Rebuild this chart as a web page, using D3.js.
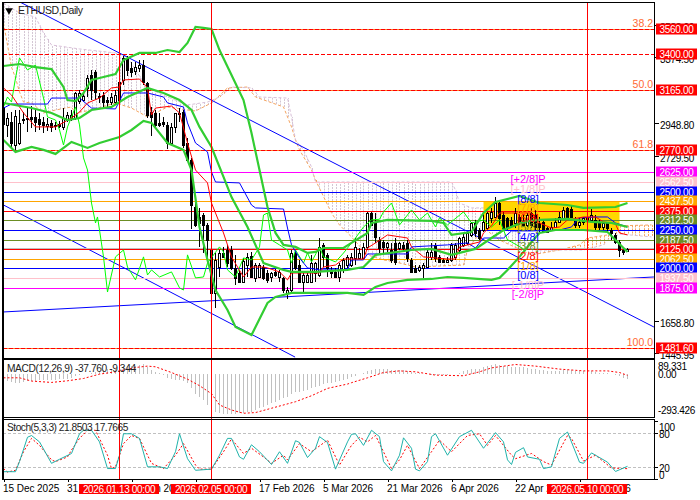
<!DOCTYPE html>
<html><head><meta charset="utf-8">
<script src="https://cdn.jsdelivr.net/npm/d3@7/dist/d3.min.js"></script>
<style>
html,body{margin:0;padding:0;background:#fff;width:700px;height:500px;overflow:hidden}
svg{display:block;font-family:"Liberation Sans",Arial,sans-serif}
</style></head><body><svg id="c" width="700" height="500"></svg>
<script>
const chartTitle="ETHUSD,Daily";
const opens=[3052,2935,2954,2804,2817,2974,2980,2987,2987,2974,2954,2928,2948,2928,2941,2922,2967,2980,2980,3091,3097,3176,3260,3280,3123,3130,3097,3084,3084,3097,3228,3371,3306,3286,3306,3325,3208,3019,3013,2948,2954,2935,2817,2922,3006,3019,2817,2706,2402,2337,2348,2283,2120,1837,2011,2098,2120,2120,2000,1968,1914,2022,2081,1935,1946,2011,1968,1946,1979,1946,1935,1837,1859,2098,2022,1914,1914,1914,1968,1957,2152,2087,1989,1979,1946,1989,2022,2022,2066,2066,2066,2142,2359,2294,2185,2174,2137,2120,2163,2131,2152,2163,2055,2000,1990,2000,2011,2076,2152,2076,2055,2044,2055,2076,2120,2152,2163,2218,2294,2250,2250,2261,2326,2337,2428,2348,2326,2315,2294,2337,2304,2283,2359,2348,2298,2304,2261,2250,2272,2304,2326,2391,2385,2315,2283,2304,2315,2315,2315,2298,2267,2293,2250,2217,2174,2120,2115];
const highs=[3163,3013,3019,3032,3032,3019,3052,3058,3032,3013,2987,2980,2967,2954,2961,3045,3019,3032,3150,3163,3150,3260,3293,3293,3143,3150,3117,3143,3163,3228,3384,3384,3345,3345,3358,3358,3215,3052,3032,3013,2987,2954,2948,3013,3045,3032,2850,2720,2467,2391,2359,2294,2152,2098,2120,2137,2152,2146,2087,1989,2065,2102,2109,2033,2033,2022,1989,1979,1996,1989,1946,1881,2120,2120,2055,1968,1979,2087,2044,2196,2163,2098,2011,2000,2033,2065,2087,2098,2196,2131,2163,2370,2370,2359,2207,2185,2174,2163,2196,2174,2174,2185,2066,2022,2022,2033,2120,2163,2163,2087,2066,2076,2163,2163,2207,2229,2240,2305,2315,2261,2359,2369,2391,2467,2435,2369,2337,2337,2391,2369,2348,2359,2391,2380,2337,2315,2272,2304,2326,2369,2402,2402,2413,2337,2326,2337,2348,2385,2348,2315,2304,2304,2261,2228,2185,2137,2131];
const lows=[2882,2856,2785,2772,2804,2941,2889,2915,2889,2902,2882,2895,2889,2902,2915,2902,2954,2961,2967,3071,3084,3117,3097,3097,3078,3052,3052,3065,3065,3045,3195,3254,3247,3260,3280,3195,2980,2863,2922,2922,2922,2778,2817,2882,2954,2785,2691,2257,2272,2141,2098,2065,1827,1740,1946,2065,2011,1989,1892,1903,1903,1946,1935,1914,1935,1924,1903,1914,1946,1914,1837,1798,1848,1989,1903,1848,1914,1903,1914,1946,2011,1946,1935,1935,1914,1968,2000,2011,2022,2066,2066,2120,2276,2163,2098,2098,2109,2033,2022,2120,2120,2044,1968,1968,1979,1935,2000,2055,2044,2033,2037,2033,2044,2055,2109,2142,2152,2207,2207,2185,2239,2250,2294,2326,2283,2250,2250,2272,2261,2283,2272,2272,2261,2250,2239,2228,2228,2246,2267,2294,2315,2326,2326,2261,2261,2283,2304,2304,2250,2250,2250,2228,2185,2159,2072,2087,2109];
const closes=[2941,2980,2817,2993,2948,2967,2974,2974,2954,2941,2935,2941,2922,2935,2928,2980,3000,3000,3143,3143,3123,3241,3163,3150,3117,3084,3084,3117,3130,3215,3371,3293,3280,3312,3325,3215,3000,2987,2935,2935,2941,2817,2922,3013,3013,2804,2706,2413,2283,2294,2283,2185,1837,2055,2098,2072,2033,2000,1935,1914,2050,2076,1946,2022,2022,1935,1924,1968,1957,1979,1859,1859,2098,2000,1914,1957,1957,2033,2033,2141,2076,2000,1968,1946,2022,2055,2076,2077,2142,2098,2142,2359,2283,2207,2131,2142,2163,2055,2044,2163,2131,2066,1979,1979,2011,2022,2109,2109,2066,2044,2044,2055,2152,2152,2196,2207,2229,2294,2229,2196,2304,2359,2369,2424,2326,2261,2272,2283,2359,2304,2283,2348,2283,2272,2272,2239,2239,2272,2304,2337,2380,2337,2337,2283,2304,2326,2333,2348,2272,2272,2298,2261,2228,2174,2120,2109,2126];
const bbUpper=[[0,3319],[4,3332],[8,3312],[12,3299],[15,3182],[16,3097],[18,3091],[20,3143],[22,3228],[24,3241],[28,3267],[30,3358],[34,3404],[38,3404],[41,3423],[44,3410],[46,3469],[48,3573],[50,3567],[52,3560],[54,3423],[57,3260],[60,3097],[62,2882],[64,2641],[66,2400],[68,2231],[70,2153],[73,2140],[76,2101],[78,2107],[80,2133],[85,2133],[87,2166],[91,2231],[92,2296],[96,2316],[107,2309],[110,2296],[112,2218],[117,2237],[120,2361],[123,2433],[129,2472],[134,2426],[141,2413],[145,2394],[153,2400],[156,2426]];
const bbMiddle=[[0,3078],[7,3045],[12,3013],[16,2967],[19,2980],[22,3032],[27,3052],[31,3117],[36,3176],[40,3143],[44,3097],[47,3032],[49,2922],[52,2791],[55,2596],[57,2465],[61,2270],[65,2035],[70,1990],[72,1977],[78,1977],[86,1990],[90,2009],[93,2088],[102,2120],[107,2127],[112,2088],[118,2127],[122,2198],[125,2250],[130,2303],[134,2316],[141,2322],[147,2303],[152,2296],[156,2270]];
const bbLower=[[0,2837],[3,2759],[7,2791],[10,2772],[13,2746],[17,2824],[21,2785],[24,2817],[29,2856],[32,2902],[35,2961],[37,2948],[41,2817],[45,2772],[47,2641],[49,2270],[51,2055],[53,1859],[56,1729],[58,1618],[62,1566],[63,1618],[66,1775],[68,1814],[72,1840],[76,1840],[86,1840],[90,1827],[93,1879],[96,1905],[101,1925],[107,1931],[111,1944],[115,1938],[122,1925],[124,1938],[126,1990],[129,2075],[132,2172],[134,2231],[138,2250],[145,2250],[151,2237],[153,2185],[156,2107]];
const kijun=[[0,3045],[2,3071],[11,3071],[12,3110],[19,3110],[22,3045],[28,3039],[30,3143],[36,3143],[40,3117],[41,3078],[45,3052],[46,2948],[48,2817],[51,2759],[52,2628],[53,2563],[59,2557],[62,2413],[63,2394],[70,2387],[71,2263],[72,2153],[74,2068],[76,2003],[79,1990],[86,1990],[87,2055],[90,2055],[91,2094],[101,2094],[102,2140],[111,2153],[116,2166],[118,2133],[120,2198],[125,2198],[127,2244],[132,2244],[139,2250],[142,2270],[143,2303],[144,2329],[148,2335],[151,2335],[153,2296],[156,2270]];
const tenkan=[[0,3176],[2,3130],[5,3013],[8,2922],[13,2922],[17,2980],[19,3019],[21,3078],[24,3110],[27,3176],[29,3182],[30,3228],[34,3234],[36,3176],[37,3000],[38,3045],[42,3058],[44,3013],[46,2817],[48,2641],[51,2557],[52,2426],[53,2361],[55,2231],[57,2075],[60,1944],[62,2009],[65,2009],[66,2003],[69,1977],[71,1925],[72,1970],[79,1970],[80,2009],[83,2022],[85,2061],[90,2061],[91,2133],[93,2166],[96,2218],[101,2198],[102,2140],[105,2075],[111,2061],[113,2061],[114,2140],[119,2172],[120,2231],[122,2277],[124,2361],[127,2361],[132,2361],[134,2296],[137,2263],[139,2270],[141,2316],[145,2335],[148,2335],[150,2303],[153,2290],[154,2231],[156,2218]];
const chikou=[[0,3052],[1,3117],[2,3084],[3,3241],[4,3371],[6,3293],[8,3325],[10,3110],[11,2987],[13,2967],[14,2902],[15,2804],[16,2922],[18,3052],[19,2935],[20,2720],[21,2641],[22,2426],[23,2296],[23.5,2335],[24,2250],[25,2075],[26,1846],[28,2075],[30,2120],[31,2009],[33,1925],[35,2075],[36,1957],[37,1990],[39,1944],[42,1977],[44,1873],[45,1859],[46,2088],[48,1938],[50,1944],[51,2035],[54,2140],[55,2107],[56,1990],[58,1944],[60,2068],[62,2055],[64,2140],[65,2348],[66,2361],[67,2185],[69,2153],[71,2120],[72,2035],[73,2120],[75,2035],[76,2101],[77,2042],[79,2140],[80,2075],[83,2042],[85,2100],[88,2198],[90,2270],[92,2316],[94,2320],[95,2368],[97,2426],[99,2283],[102,2381],[104,2316],[106,2361],[108,2270],[109,2329],[111,2283],[115,2368],[117,2296],[119,2309],[120,2316],[122,2270],[124,2316],[126,2185],[127,2172],[130,2127]];
const senkouA=[[0,3600],[2,3312],[3,3241],[4,3150],[5,3084],[7,3078],[10,3013],[13,3032],[17,3052],[18,3013],[22,3032],[28,3078],[32,3045],[36,2987],[37,3000],[41,3052],[46,3032],[48,3026],[52,3078],[56,3176],[61,3182],[63,3117],[70,3052],[72,2922],[73,2837],[74,2772],[77,2641],[78,2576],[82,2361],[84,2283],[87,2205],[91,2088],[95,2055],[98,2042],[103,2009],[115,2022],[116,2120],[120,2263],[124,2185],[132,2088],[139,2120],[144,2153],[146,2198],[151,2218],[153,2277],[162,2283]];
const senkouB=[[0,3729],[4,3664],[8,3638],[10,3534],[12,3456],[19,3430],[28,3404],[31,3378],[33,3293],[36,3176],[41,3117],[46,3065],[51,3084],[54,3117],[57,3182],[62,3176],[64,3117],[71,3110],[72,2987],[73,2837],[75,2772],[77,2661],[78,2563],[87,2563],[112,2563],[113,2511],[114,2426],[117,2394],[122,2394],[133,2120],[145,2120],[150,2153],[151,2185],[154,2224],[162,2205]];
const macdHist=[-37,-51,-56,-63,-63,-56,-51,-51,-49,-46,-44,-44,-41,-41,-39,-39,-37,-27,-12,-7,-2,2,12,17,24,34,37,37,41,49,59,59,59,63,66,71,51,32,17,5,-7,-27,-37,-44,-41,-51,-68,-105,-149,-166,-190,-227,-232,-281,-288,-290,-293,-290,-290,-288,-285,-281,-276,-264,-251,-239,-227,-215,-203,-190,-178,-166,-149,-134,-129,-124,-117,-105,-98,-85,-76,-68,-63,-56,-51,-44,-37,-22,-12,-2,12,22,32,37,37,37,37,34,32,29,27,24,17,12,7,2,-2,-5,-7,-7,-7,-5,-2,0,12,24,34,41,39,41,49,59,66,71,66,59,59,56,54,54,51,46,41,37,32,27,22,22,22,24,27,29,27,22,20,22,24,24,17,12,12,7,0,-5,-17,-27,-37.76];
const macdSignal=[[0,-27],[4,-27],[7,-51],[12,-61],[16,-49],[20,-32],[24,0],[28,17],[33,49],[36,59],[38,54],[42,12],[46,-37],[49,-85],[52,-144],[54,-227],[57,-264],[60,-288],[63,-283],[67,-251],[73,-203],[77,-159],[81,-105],[86,-73],[87,-63],[91,-27],[95,12],[99,24],[103,17],[108,-7],[115,-12],[119,17],[122,46],[128,71],[133,59],[139,37],[145,24],[151,24],[154,12],[156,-9.344]];
const stochMain=[[0,12.6],[3,12.6],[4,30],[6,72],[7,75],[9,64],[12,27],[14,34],[17,44],[19,78],[20,84],[22,84],[24,64],[26,18],[28,18],[29,41],[30,78],[32,78],[34,70],[36,21],[39,21],[41,18],[43,47],[44,78],[46,35],[48,15],[52,17],[54,41],[56,70],[57,70],[59,38],[60,34],[62,59],[64,47],[67,25],[69,47],[71,27],[73,66],[74,63],[76,37],[78,53],[79,73],[81,63],[83,17],[86,64],[87,77],[88,78],[90,58],[92,84],[94,73],[95,30],[97,14],[99,41],[100,71],[102,53],[103,17],[104,14],[106,30],[107,73],[108,78],[111,41],[114,73],[117,84],[120,53],[123,80],[125,64],[126,33],[127,25],[128,46],[130,54],[131,38],[134,34],[135,18],[137,21],[139,70],[141,81],[144,29],[145,27],[147,45],[151,29],[153,13],[156,21.85]];
const stochSignal=[[0,18],[1,12],[3,15],[5,47],[7,70],[9,58],[12,33],[13,30],[16,38],[17,50],[19,70],[21,84],[23,84],[26,41],[27,18],[28,21],[30,61],[32,75],[34,70],[36,41],[37,27],[40,18],[43,41],[45,61],[48,24],[49,17],[52,17],[55,47],[57,69],[60,44],[62,53],[65,38],[67,27],[70,41],[71,33],[74,61],[77,47],[81,67],[84,24],[86,47],[87,58],[89,72],[91,64],[93,75],[95,47],[97,18],[99,33],[101,58],[104,18],[107,47],[109,67],[112,47],[116,75],[119,78],[121,58],[123,75],[127,41],[128,35],[132,44],[135,30],[137,24],[141,75],[142,70],[145,31],[148,41],[152,19],[156,17.77]];
const levelPrices=[2625,2562.5,2500,2437.5,2375,2312.5,2250,2187.5,2125,2062.5,2000,1937.5,1875];
const levelColors=["#ff00ff","#ffc0cb","#0000ff","#ffa500","#ff0000","#6b8e23","#0000ff","#6b8e23","#ff0000","#ffa500","#0000ff","#ffc0cb","#ff00ff"];
const levelNames=["[+2/8]P","[+1/8]P","[8/8]","[7/8]","[6/8]","[5/8]","[4/8]","[3/8]","[2/8]","[1/8]","[0/8]","[-1/8]P","[-2/8]P"];
const fibPrices=[3560,3400,3165,2770,1481.6];
const fibNames=["38.2","","50.0","61.8","100.0"];
const bidPrice=2133;
const priceTicks=[3583,3374.5,2948.8,2729.5,1658.8,1445.95];
const trendLines=[[[4.1,3736],[162.6,1618]],[[0,2413],[72.9,1422]],[[0,1716],[162.6,1944]]];
const zoneBars=[120,154];
const zonePrices=[2437.5,2250];
const markBars=[29,52,146];
const markLabels=["2026.01.13 00:00","2026.02.05 00:00","2026.05.10 00:00"];
const tickBars=[0,16,32,48,64,80,96,112,128,144];
const tickLabels=["15 Dec 2025","31 Dec 2025","16 Jan 2026","1 Feb 2026","17 Feb 2026","5 Mar 2026","21 Mar 2026","6 Apr 2026","22 Apr 2026","8 May 2026"];
const macdTicks=[89.331,0,-293.426];
const stochTicks=[100,80,20,0];

const FONT='"Liberation Sans",Arial,sans-serif';
const svg=d3.select("#c");
const x=d3.scaleLinear().domain([0,156]).range([3.5,627.5]);
const y=d3.scaleLinear().domain([3736,1416]).range([2,358]);
const ym=d3.scaleLinear().domain([89.331,-293.426]).range([362,414]);
const ys=d3.scaleLinear().domain([0,100]).range([479,421]);
const L=3,R=654.5;
const defs=svg.append("defs");
[["cm",3,358],["cd",360,417],["cs",420,479]].forEach(([id,t,b])=>defs.append("clipPath").attr("id",id).append("rect").attr("x",L).attr("y",t).attr("width",R-L).attr("height",b-t));
const main=svg.append("g").attr("clip-path","url(#cm)");
const line=(sy)=>d3.line().x(d=>x(d[0])).y(d=>sy(d[1]));

// cloud hatch
const aAt=d3.scaleLinear().domain(senkouA.map(d=>d[0])).range(senkouA.map(d=>d[1]));
const bAt=d3.scaleLinear().domain(senkouB.map(d=>d[0])).range(senkouB.map(d=>d[1]));
main.append("g").selectAll("line").data(d3.range(0,163)).join("line")
 .attr("x1",i=>Math.round(x(i))+.5).attr("x2",i=>Math.round(x(i))+.5)
 .attr("y1",i=>y(aAt(i))).attr("y2",i=>y(bAt(i)))
 .attr("stroke",i=>aAt(i)>bAt(i)?"#f4a460":"#d3c6d3").attr("stroke-dasharray","2,1");
main.append("path").datum(senkouA).attr("d",line(y)).attr("fill","none").attr("stroke","#f4a460").attr("stroke-dasharray","3,2");
main.append("path").datum(senkouB).attr("d",line(y)).attr("fill","none").attr("stroke","#d8bfd8").attr("stroke-dasharray","3,2");

// zone
main.append("rect").attr("x",x(zoneBars[0])).attr("width",x(zoneBars[1])-x(zoneBars[0])).attr("y",y(zonePrices[0])).attr("height",y(zonePrices[1])-y(zonePrices[0])).attr("fill","#ffd700");

// trend lines
main.append("g").selectAll("path").data(trendLines).join("path").attr("d",line(y)).attr("fill","none").attr("stroke","#0000ff");

// level lines
const hline=(g,p,c,extra)=>g.append("line").attr("x1",L).attr("x2",R).attr("y1",Math.round(y(p))+.5).attr("y2",Math.round(y(p))+.5).attr("stroke",c).attr("shape-rendering","crispEdges").attr("stroke-dasharray",extra||null);
hline(main,bidPrice,"#c0c0c0");
levelPrices.forEach((p,i)=>hline(main,p,levelColors[i]));
fibPrices.forEach((p,i)=>{ if(i!==1) hline(main,p,"#ff7f27"); hline(main,p,"#ff0000","4,2"); });

// candles
const cg=main.append("g").attr("shape-rendering","crispEdges");
opens.forEach((o,i)=>{
  const c=closes[i],cx=Math.floor(x(i))+.5;
  cg.append("line").attr("x1",cx).attr("x2",cx).attr("y1",y(highs[i])).attr("y2",y(lows[i])).attr("stroke","#000");
  const t=Math.round(y(Math.max(o,c))),b=Math.round(y(Math.min(o,c)));
  cg.append("rect").attr("x",cx-1).attr("width",2).attr("y",t+.5).attr("height",Math.max(b-t,0.5)).attr("fill",c>=o?"#fff":"#000").attr("stroke","#000");
});

// indicators
const draw=(g,data,sy,col,w,dash)=>g.append("path").datum(data).attr("d",line(sy)).attr("fill","none").attr("stroke",col).attr("stroke-width",w).attr("stroke-dasharray",dash||null);
draw(main,chikou,y,"#00ff00",1);
draw(main,kijun,y,"#0000ff",1);
draw(main,tenkan,y,"#ff0000",1);
[bbUpper,bbMiddle,bbLower].forEach(s=>draw(main,s,y,"#32cd32",2.2));

// Murrey text
main.append("g").selectAll("text").data(levelNames).join("text")
 .attr("x",528).attr("y",(d,i)=>y(levelPrices[i])+7).attr("text-anchor","middle")
 .attr("font-size",11).attr("font-family",FONT).attr("fill",(d,i)=>levelColors[i]).text(d=>d)
 .attr("dy","0.35em");
// Fib text
fibPrices.forEach((p,i)=>{ if(fibNames[i]) main.append("text").attr("x",R-1.5).attr("y",y(p)-2).attr("text-anchor","end").attr("font-size",10.5).attr("font-family",FONT).attr("fill","#ff6a33").text(fibNames[i]); });

// MACD
const mp=svg.append("g").attr("clip-path","url(#cd)");
mp.append("g").attr("shape-rendering","crispEdges").selectAll("line").data(macdHist).join("line")
 .attr("x1",(d,i)=>Math.floor(x(i))+.5).attr("x2",(d,i)=>Math.floor(x(i))+.5).attr("y1",ym(0)).attr("y2",d=>ym(d)).attr("stroke","#c0c0c0");
draw(mp,macdSignal,ym,"#ff0000",1,"2,2");
// Stoch
const sp=svg.append("g").attr("clip-path","url(#cs)");
[80,20].forEach(v=>sp.append("line").attr("x1",L).attr("x2",R).attr("y1",Math.round(ys(v))+.5).attr("y2",Math.round(ys(v))+.5).attr("stroke","#c0c0c0").attr("stroke-dasharray","3,2"));
draw(sp,stochSignal,ys,"#ff0000",1,"2,2");
draw(sp,stochMain,ys,"#20b2aa",1);

// vertical markers
svg.append("g").selectAll("line").data(markBars).join("line")
 .attr("x1",d=>Math.floor(x(d))).attr("x2",d=>Math.floor(x(d))).attr("y1",3).attr("y2",479).attr("stroke","#ff0000").attr("shape-rendering","crispEdges")
 .attr("transform","translate(.5,0)");

// Panel frames
const frame=svg.append("g").attr("fill","none").attr("stroke","#000").attr("shape-rendering","crispEdges");
[[2,358],[359,417],[419,479]].forEach(([t,b])=>frame.append("rect").attr("x",2.5).attr("y",t+.5).attr("width",R-2.5).attr("height",b-t));
frame.append("line").attr("x1",2.5).attr("x2",2.5).attr("y1",2).attr("y2",480).attr("stroke-width",2);

// right axis
const txt=(g)=>g.selectAll("text").attr("font-family",FONT).attr("font-size",10).attr("fill","#000").attr("letter-spacing","-0.3");
const ax=svg.append("g").attr("transform",`translate(${R},0)`).call(d3.axisRight(y).tickValues(priceTicks).tickSize(4).tickPadding(1.5).tickFormat(d3.format(".2f")));
ax.select(".domain").remove();txt(ax);
ax.selectAll("line").attr("shape-rendering","crispEdges");
ax.selectAll("text").attr("dy","0.55em");

const am=svg.append("g").attr("transform",`translate(${R},0)`).call(d3.axisRight(ym).tickValues(macdTicks).tickSize(0).tickPadding(3.5).tickFormat(d=>d===0?"0.00":(d<0?"-":"")+Math.abs(d).toFixed(3)));
am.select(".domain").remove();txt(am);
am.selectAll("text").attr("dy",d=>d>0?"0.75em":d<0?"-0.05em":"0.35em");
const as=svg.append("g").attr("transform",`translate(${R},0)`).call(d3.axisRight(ys).tickValues(stochTicks).tickSize(3).tickPadding(1.5).tickFormat(d3.format("d")));
as.select(".domain").remove();txt(as);
as.selectAll("line").attr("shape-rendering","crispEdges");
as.selectAll("text").attr("dy",d=>d===100?"0.95em":d===80?"0.5em":d===20?"0.4em":"-0.1em");

// price tags
const tags=[...levelPrices.map((p,i)=>({p,c:levelColors[i]})),...fibPrices.map(p=>({p,c:"#ff0000"}))];
const tg=svg.append("g").selectAll("g").data(tags).join("g").attr("transform",d=>`translate(656,${Math.round(y(d.p))})`);
tg.append("rect").attr("x",0).attr("y",-5.5).attr("width",41).attr("height",11).attr("fill",d=>d.c);
tg.append("text").attr("x",20.5).attr("y",0).attr("dy","0.36em").attr("text-anchor","middle").attr("font-family",FONT).attr("font-size",10).attr("letter-spacing","-0.3").attr("fill","#fff").text(d=>d.p.toFixed(2));

// bottom axis
const ab=svg.append("g").attr("transform","translate(0,479)").call(d3.axisBottom(x).tickValues(tickBars).tickSize(3).tickPadding(3).tickFormat((d,i)=>tickLabels[i]));
ab.select(".domain").remove();txt(ab);
ab.selectAll("line").attr("shape-rendering","crispEdges");
ab.selectAll("text").attr("text-anchor","start").attr("dx","-1").attr("letter-spacing","-0.05");

// date flags
const fg=svg.append("g").selectAll("g").data(markBars).join("g").attr("transform",d=>`translate(${Math.floor(x(d))},484)`);
fg.append("rect").attr("x",-40).attr("y",0).attr("width",80).attr("height",10).attr("fill","#ff0000");
fg.append("text").attr("x",0).attr("y",5).attr("dy","0.36em").attr("text-anchor","middle").attr("font-family",FONT).attr("font-size",10).attr("letter-spacing","-0.35").attr("fill","#fff").text((d,i)=>markLabels[i]);

// titles
svg.append("path").attr("d",d3.symbol(d3.symbolTriangle,24)()).attr("transform","translate(9,10.5) rotate(180)").attr("fill","#000");
svg.append("text").attr("x",18).attr("y",14).attr("font-family",FONT).attr("font-size",10.5).attr("letter-spacing","-0.4").attr("fill","#222").text(chartTitle);
svg.append("text").attr("x",7).attr("y",372).attr("font-family",FONT).attr("font-size",10.2).attr("letter-spacing","-0.4").attr("fill","#222").text("MACD(12,26,9) -37.760 -9.344");
svg.append("text").attr("x",7).attr("y",431).attr("font-family",FONT).attr("font-size",10.2).attr("letter-spacing","-0.5").attr("fill","#222").text("Stoch(5,3,3) 21.8503 17.7665");
</script></body></html>
